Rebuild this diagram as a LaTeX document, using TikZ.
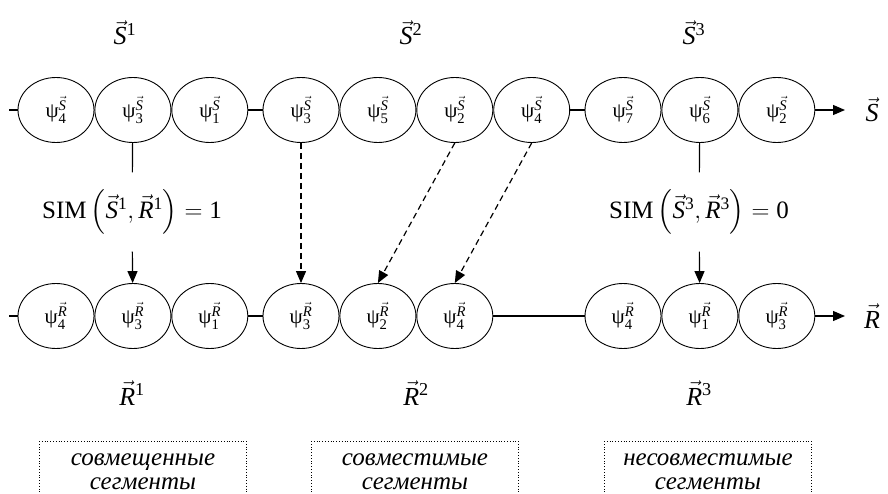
\documentclass[tikz,border=0pt]{standalone}
\usepackage{amsmath}
\usepackage{fontspec}
\setmainfont{Liberation Serif}
\usepackage{tikz}
\usetikzlibrary{positioning,arrows.meta,shapes.geometric}
\newcommand{\vecS}{\vec{\text{\itshape S}}}
\newcommand{\vecR}{\vec{\text{\itshape R}}}
\newcommand{\psiS}[1]{$\text{ψ}_{\text{#1}}^{\vecS}$}
\newcommand{\psiR}[1]{$\text{ψ}_{\text{#1}}^{\vecR}$}
\tikzset{
    every node/.style={font=\fontsize{21}{23}\selectfont},
    seg/.style={ellipse,draw,line width=0.9pt,minimum width=76pt,minimum height=65pt,inner sep=0pt},
    chain/.style={draw,line width=1.2pt},
    link/.style={->,line width=1.2pt,>={Triangle[length=12pt,width=10pt]}},
    match/.style={link,dash pattern=on 6pt off 4pt},
    seqlabel/.style={font=\fontsize{26}{28}\selectfont},
    simlabel/.style={font=\fontsize{25}{28}\selectfont,inner xsep=2pt,inner ysep=17pt},
    segbox/.style={minimum width=206pt,minimum height=62pt,anchor=north,align=center,font=\fontsize{25}{24}\selectfont\itshape},
    boxline/.style={draw,dotted,line width=0.8pt}
}
\begin{document}
\begin{tikzpicture}[x=1pt,y=-1pt]
    \useasboundingbox (0,0) rectangle (888,494);
    % query sequence S
    \node[seqlabel] (lS1) at (125,33) {$\vecS{}^{\text{1}}$};
    \node[seqlabel] (lS2) at (411,33) {$\vecS{}^{\text{2}}$};
    \node[seqlabel] (lS3) at (694,33) {$\vecS{}^{\text{3}}$};
    \node[seg] (ts1) at (56,110) {\psiS{4}};
    \node[seg,right=0pt of ts1] (ts2) {\psiS{3}};
    \node[seg,right=0pt of ts2] (ts3) {\psiS{1}};
    \node[seg] (ts4) at (301,110) {\psiS{3}};
    \node[seg,right=0pt of ts4] (ts5) {\psiS{5}};
    \node[seg,right=0pt of ts5] (ts6) {\psiS{2}};
    \node[seg,right=0pt of ts6] (ts7) {\psiS{4}};
    \node[seg] (ts8) at (623,110) {\psiS{7}};
    \node[seg,right=0pt of ts8] (ts9) {\psiS{6}};
    \node[seg,right=0pt of ts9] (ts10) {\psiS{2}};
    \coordinate (sbeg) at (9,110);
    \coordinate (send) at (845,110);
    \node[seqlabel] (sname) at (872,110) {$\vecS$};
    \draw[chain] (sbeg) -- (ts1);
    \draw[chain] (ts3) -- (ts4);
    \draw[chain] (ts7) -- (ts8);
    \draw[link] (ts10) -- (send);
    % reference sequence R
    \node[seg] (br1) at (56,316) {\psiR{4}};
    \node[seg,right=0pt of br1] (br2) {\psiR{3}};
    \node[seg,right=0pt of br2] (br3) {\psiR{1}};
    \node[seg] (br4) at (301,316) {\psiR{3}};
    \node[seg,right=0pt of br4] (br5) {\psiR{2}};
    \node[seg,right=0pt of br5] (br6) {\psiR{4}};
    \node[seg] (br7) at (623,316) {\psiR{4}};
    \node[seg,right=0pt of br7] (br8) {\psiR{1}};
    \node[seg,right=0pt of br8] (br9) {\psiR{3}};
    \coordinate (rbeg) at (9,316);
    \coordinate (rend) at (845,316);
    \node[seqlabel] (rname) at (872,316) {$\vecR$};
    \draw[chain] (rbeg) -- (br1);
    \draw[chain] (br3) -- (br4);
    \draw[chain] (br6) -- (br7);
    \draw[link] (br9) -- (rend);
    \node[seqlabel] (lR1) at (132,393) {$\vecR{}^{\text{1}}$};
    \node[seqlabel] (lR2) at (416,393) {$\vecR{}^{\text{2}}$};
    \node[seqlabel] (lR3) at (699,393) {$\vecR{}^{\text{3}}$};
    % similarity of segments
    \node[simlabel] (sim1) at (132,212) {$\text{SIM}\left(\vecS{}^{\text{1}},\vecR{}^{\text{1}}\right)=\text{1}$};
    \node[simlabel] (sim3) at (699,212) {$\text{SIM}\left(\vecS{}^{\text{3}},\vecR{}^{\text{3}}\right)=\text{0}$};
    \draw[chain] (ts2) -- (sim1);
    \draw[link] (sim1) -- (br2);
    \draw[chain] (ts9) -- (sim3);
    \draw[link] (sim3) -- (br8);
    \draw[match] (ts4.south) -- (br4.north);
    \draw[match] (ts6.south) -- (br5.north);
    \draw[match] (ts7.south) -- (br6.north);
    % segment kinds
    \node[segbox] (box1) at (143,441) {совмещенные\\сегменты};
    \node[segbox] (box2) at (415,441) {совместимые\\сегменты};
    \node[segbox] (box3) at (708,441) {несовместимые\\сегменты};
    \draw[boxline] (box1.south west) |- (box1.north east) -- (box1.south east);
    \draw[boxline] (box2.south west) |- (box2.north east) -- (box2.south east);
    \draw[boxline] (box3.south west) |- (box3.north east) -- (box3.south east);
\end{tikzpicture}
\end{document}
